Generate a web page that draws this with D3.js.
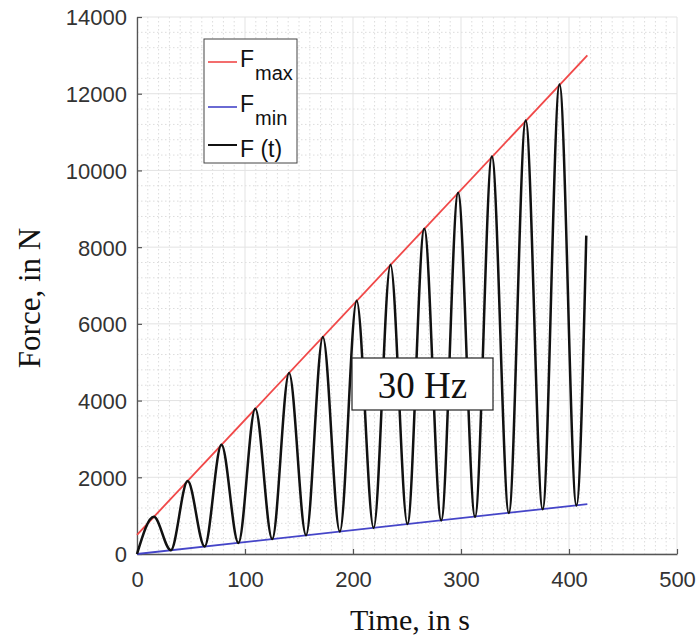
<!DOCTYPE html>
<html>
<head>
<meta charset="utf-8">
<script src="https://cdn.jsdelivr.net/npm/d3@7/dist/d3.min.js"></script>
<style>
  html, body { margin: 0; padding: 0; background: #fff; }
  svg { display: block; }
</style>
</head>
<body>
<script>
// Load ramp at 30 Hz: force envelope and measured force over time
const fmaxTimes = [0, 417];
const fmaxForces = [500, 13000];
const fminTimes = [0, 417];
const fminForces = [0, 1300];

// Local maxima and minima of F(t), plus the last recorded sample
const peakTimes = [15.6, 46.9, 78.2, 109.5, 140.8, 172.1, 203.4, 234.7, 266.0, 297.3, 328.6, 359.9, 391.2];
const peakForces = [970, 1900, 2850, 3790, 4720, 5660, 6600, 7540, 8480, 9420, 10360, 11300, 12240];
const troughTimes = [0, 31.3, 62.6, 93.9, 125.2, 156.5, 187.8, 219.1, 250.4, 281.7, 313.0, 344.3, 375.6, 406.9];
const troughForces = [0, 100, 195, 290, 390, 490, 585, 680, 780, 875, 970, 1070, 1165, 1265];
const lastTime = 416;
const lastForce = 8300;

const xTicks = [0, 100, 200, 300, 400, 500];
const yTicks = [0, 2000, 4000, 6000, 8000, 10000, 12000, 14000];
const legendLabels = [["F", "max"], ["F", "min"], ["F (t)", ""]];
const annotation = "30 Hz";

const W = 700, H = 640;
const plotLeft = 137, plotRight = 677, plotTop = 17, plotBottom = 554;

const svg = d3.select("body").append("svg").attr("width", W).attr("height", H);

const x = d3.scaleLinear().domain([0, 500]).range([plotLeft, plotRight]);
const y = d3.scaleLinear().domain([0, 14000]).range([plotBottom, plotTop]);

// Grid: dotted minor lines, then solid major lines
const grid = svg.append("g");
grid.selectAll(".mx").data(d3.range(0, 501, 10).filter(v => v % 100 !== 0)).join("line")
  .attr("x1", d => x(d)).attr("x2", d => x(d)).attr("y1", plotTop).attr("y2", plotBottom)
  .attr("stroke", "#dcdcdc").attr("stroke-width", 1).attr("stroke-dasharray", "1.5,2.5");
grid.selectAll(".my").data(d3.range(0, 14001, 400).filter(v => v % 2000 !== 0)).join("line")
  .attr("x1", plotLeft).attr("x2", plotRight).attr("y1", d => y(d)).attr("y2", d => y(d))
  .attr("stroke", "#dcdcdc").attr("stroke-width", 1).attr("stroke-dasharray", "1.5,2.5");
grid.selectAll(".Mx").data(xTicks).join("line")
  .attr("x1", d => x(d)).attr("x2", d => x(d)).attr("y1", plotTop).attr("y2", plotBottom)
  .attr("stroke", "#e3e3e3").attr("stroke-width", 1);
grid.selectAll(".My").data(yTicks).join("line")
  .attr("x1", plotLeft).attr("x2", plotRight).attr("y1", d => y(d)).attr("y2", d => y(d))
  .attr("stroke", "#e3e3e3").attr("stroke-width", 1);

// Axes with inward ticks
const fmt = d3.format("d");
const xAxis = d3.axisBottom(x).tickValues(xTicks).tickFormat(fmt)
  .tickSizeInner(-5).tickSizeOuter(0).tickPadding(17);
const yAxis = d3.axisLeft(y).tickValues(yTicks).tickFormat(fmt)
  .tickSizeInner(-5).tickSizeOuter(0).tickPadding(10);

const gx = svg.append("g").attr("transform", `translate(0,${plotBottom})`).call(xAxis);
const gy = svg.append("g").attr("transform", `translate(${plotLeft},0)`).call(yAxis);
[gx, gy].forEach(g => {
  g.select(".domain").attr("stroke", "#555").attr("stroke-width", 1.3);
  g.selectAll(".tick line").attr("stroke", "#555").attr("stroke-width", 1.2);
  g.selectAll(".tick text").attr("fill", "#333")
    .style("font-family", "Liberation Sans, Arial, sans-serif").style("font-size", "22px");
});
gx.selectAll(".tick text").attr("dy", "0.71em");
gy.selectAll(".tick text").attr("dy", "0.36em");

// Envelope lines
const line = d3.line().x(d => x(d[0])).y(d => y(d[1]));
svg.append("path").datum(d3.zip(fmaxTimes, fmaxForces))
  .attr("d", line).attr("fill", "none").attr("stroke", "#f04848").attr("stroke-width", 1.8);
svg.append("path").datum(d3.zip(fminTimes, fminForces))
  .attr("d", line).attr("fill", "none").attr("stroke", "#4545c8").attr("stroke-width", 1.8);

// Force signal through its extrema
const signal = d3.zip(troughTimes, troughForces)
  .concat(d3.zip(peakTimes, peakForces))
  .concat([[lastTime, lastForce]])
  .sort((a, b) => a[0] - b[0]);
const curve = d3.line().x(d => x(d[0])).y(d => y(d[1])).curve(d3.curveMonotoneX);
svg.append("path").datum(signal)
  .attr("d", curve).attr("fill", "none").attr("stroke", "#111").attr("stroke-width", 2.5)
  .attr("stroke-linejoin", "round");

// Frequency annotation box
const ann = svg.append("g");
ann.append("rect").attr("x", 352).attr("y", 358).attr("width", 141).attr("height", 52)
  .attr("fill", "#fff").attr("stroke", "#222").attr("stroke-width", 1.2);
ann.append("text").attr("x", 422.5).attr("y", 398).attr("text-anchor", "middle")
  .style("font-family", "Liberation Serif, Times New Roman, serif").style("font-size", "37px")
  .attr("fill", "#111").text(annotation);

// Legend
const leg = svg.append("g");
leg.append("rect").attr("x", 204).attr("y", 39).attr("width", 93).attr("height", 124)
  .attr("fill", "#fff").attr("stroke", "#444").attr("stroke-width", 1);
const legColors = ["#f04848", "#4545c8", "#111"];
const legY = [62, 107, 145];
legendLabels.forEach((lab, i) => {
  leg.append("line").attr("x1", 208).attr("x2", 237).attr("y1", legY[i]).attr("y2", legY[i])
    .attr("stroke", legColors[i]).attr("stroke-width", i === 2 ? 2 : 1.6);
  const t = leg.append("text").attr("x", 240).attr("y", legY[i] + (i === 2 ? 12 : 5))
    .style("font-family", "Liberation Sans, Arial, sans-serif").style("font-size", "23px")
    .attr("fill", "#111");
  t.append("tspan").text(lab[0]);
  if (lab[1]) {
    t.append("tspan").attr("dx", 1).attr("dy", 13).style("font-size", "20px").text(lab[1]);
  }
});

// Axis titles
svg.append("text").attr("x", 410).attr("y", 630).attr("text-anchor", "middle")
  .style("font-family", "Liberation Serif, Times New Roman, serif").style("font-size", "30px")
  .attr("fill", "#111").text("Time, in s");
svg.append("text").attr("transform", "translate(40,298) rotate(-90)").attr("text-anchor", "middle")
  .style("font-family", "Liberation Serif, Times New Roman, serif").style("font-size", "31px")
  .attr("fill", "#111").text("Force, in N");
</script>
</body>
</html>
